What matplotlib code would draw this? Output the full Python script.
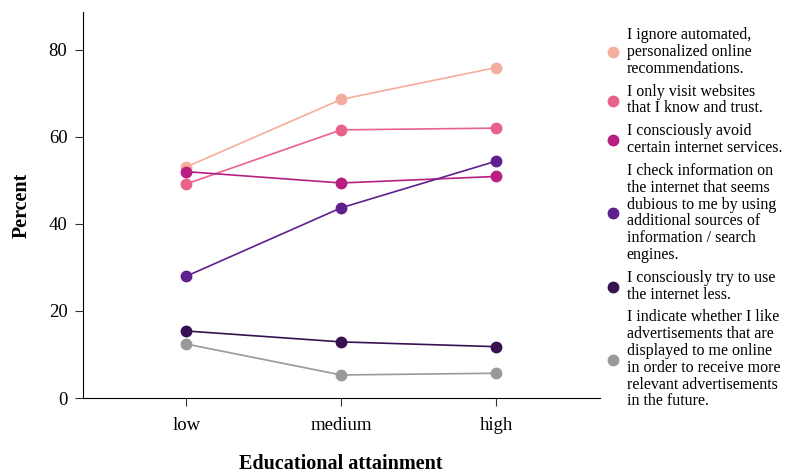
import matplotlib
matplotlib.use('Agg')
import matplotlib.pyplot as plt

plt.rcParams['font.family'] = ['Liberation Serif', 'DejaVu Serif']

# Data
levels = ['low', 'medium', 'high']
labels = [
    'I ignore automated,\npersonalized online\nrecommendations.',
    'I only visit websites\nthat I know and trust.',
    'I consciously avoid\ncertain internet services.',
    'I check information on\nthe internet that seems\ndubious to me by using\nadditional sources of\ninformation / search\nengines.',
    'I consciously try to use\nthe internet less.',
    'I indicate whether I like\nadvertisements that are\ndisplayed to me online\nin order to receive more\nrelevant advertisements\nin the future.',
]
ignore_recs = [53.1, 68.6, 75.9]
trusted_sites = [49.2, 61.6, 62.0]
avoid_services = [52.0, 49.4, 50.9]
check_info = [28.0, 43.7, 54.4]
use_less = [15.4, 12.9, 11.8]
rate_ads = [12.4, 5.3, 5.7]
series = [ignore_recs, trusted_sites, avoid_services, check_info, use_less, rate_ads]
colors = ['#f5ad9e', '#e8628a', '#b81f81', '#5f1f8f', '#371152', '#999999']

fig = plt.figure(figsize=(7.88, 4.75), dpi=100)
ax = fig.add_axes([0.105, 0.162, 0.656, 0.813])

x = range(len(levels))
for vals, lab, c in zip(series, labels, colors):
    ax.plot(x, vals, color=c, lw=1.2, marker='o', markersize=7.5, label=lab)

ax.set_xlim(-0.67, 2.67)
ax.set_ylim(0, 88.7)
ax.set_xticks(list(x))
ax.set_xticklabels(levels, fontsize=13.5)
ax.set_yticks([0, 20, 40, 60, 80])
ax.tick_params(axis='y', labelsize=13.5, length=6, pad=5, color='#333333')
ax.tick_params(axis='x', length=6, pad=8, color='#333333')
ax.spines['top'].set_visible(False)
ax.spines['right'].set_visible(False)
ax.set_xlabel('Educational attainment', fontsize=14.5, fontweight='bold', labelpad=14)
ax.set_ylabel('Percent', fontsize=14.5, fontweight='bold', labelpad=12)

leg = fig.legend(loc='upper left', bbox_to_anchor=(0.76, 0.956), frameon=False,
                 fontsize=11.5, handlelength=1.0, handletextpad=0.35, labelspacing=0.43,
                 borderaxespad=0)
for h in leg.legend_handles:
    h.set_linestyle('')
for t in leg.get_texts():
    t.set_linespacing(1.065)

fig.savefig('out.png', dpi=100)
